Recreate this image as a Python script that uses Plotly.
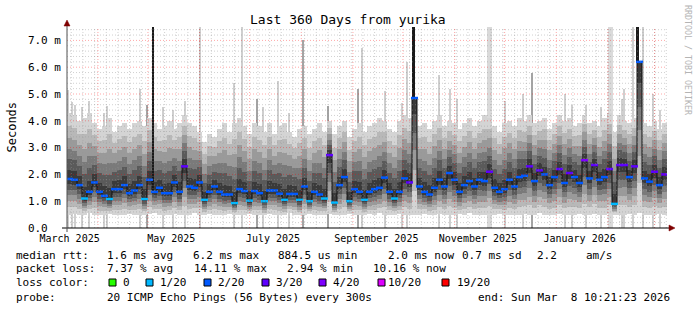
import plotly.graph_objects as go
from datetime import datetime, timedelta

# ---------------- data ----------------
START = datetime(2025, 3, 13, 10, 21, 23)
END = datetime(2026, 3, 8, 10, 21, 23)
STEP_DAYS = 3  # one smoke sample every 3 days

median_ms = [
    1.83, 1.80, 1.60, 1.10, 1.35, 1.70, 1.35, 1.20, 1.08, 1.45,
    1.45, 1.60, 1.30, 1.40, 1.60, 1.08, 1.80, 1.35, 1.50, 1.30,
    1.30, 1.70, 1.35, 2.30, 1.55, 1.50, 1.70, 1.05, 1.35, 1.55,
    1.35, 1.25, 1.25, 0.93, 1.45, 1.38, 1.02, 1.38, 1.30, 1.00,
    1.40, 1.40, 1.28, 1.05, 1.27, 1.27, 1.05, 1.55, 1.00, 1.35,
    1.25, 1.10, 2.72, 0.95, 1.60, 1.90, 1.00, 1.45, 1.35, 1.05,
    1.35, 1.45, 1.50, 1.88, 1.35, 1.10, 1.35, 1.85, 1.70, 4.85,
    1.55, 1.35, 1.25, 1.50, 1.80, 1.55, 2.05, 1.80, 1.35, 1.60,
    1.75, 1.55, 1.80, 1.75, 2.10, 1.50, 1.35, 1.45, 1.80, 1.55,
    1.90, 1.95, 2.30, 1.75, 2.15, 2.00, 1.60, 1.90, 2.20, 1.68,
    2.05, 1.90, 1.68, 2.53, 1.85, 2.35, 1.80, 1.90, 2.20, 0.90,
    2.35, 2.35, 1.90, 2.30, 6.20, 1.85, 1.73, 2.10, 1.60, 2.00,
]
loss_of_20 = [
    2, 2, 2, 1, 2, 2, 2, 2, 1, 2,
    2, 2, 2, 2, 2, 1, 2, 2, 2, 2,
    2, 2, 2, 3, 2, 2, 2, 1, 2, 2,
    2, 2, 2, 1, 2, 2, 1, 2, 2, 1,
    2, 2, 2, 1, 2, 2, 1, 2, 1, 2,
    2, 1, 3, 1, 2, 2, 1, 2, 2, 1,
    2, 2, 2, 2, 2, 1, 2, 2, 3, 2,
    2, 2, 2, 2, 2, 2, 2, 2, 2, 2,
    2, 2, 2, 2, 3, 2, 2, 2, 2, 2,
    2, 2, 3, 2, 3, 2, 2, 2, 3, 2,
    3, 2, 2, 4, 2, 3, 2, 2, 3, 1,
    3, 3, 2, 3, 2, 2, 2, 3, 2, 3,
]
smoke_top_ms = [
    4.3, 4.2, 4.0, 4.1, 4.3, 3.9, 3.7, 3.8, 4.1, 3.6,
    3.8, 3.9, 3.7, 3.9, 4.0, 3.8, 4.1, 3.9, 3.7, 3.8,
    4.0, 3.7, 3.9, 4.2, 3.9, 3.8, 3.6, 3.2, 3.5, 3.4,
    3.7, 3.9, 3.6, 3.9, 4.1, 3.8, 3.5, 3.9, 3.8, 3.6,
    3.9, 3.5, 3.8, 3.9, 3.6, 3.4, 3.7, 3.8, 3.5, 3.7,
    3.9, 3.6, 4.0, 3.5, 3.8, 4.0, 3.4, 3.7, 3.9, 3.6,
    3.8, 3.9, 4.1, 4.0, 3.7, 3.6, 4.0, 4.2, 4.1, 4.3,
    3.8, 3.9, 3.7, 4.0, 4.2, 3.8, 4.0, 3.9, 3.7, 3.9,
    4.1, 3.8, 4.0, 4.2, 4.1, 3.8, 3.6, 3.9, 4.0, 3.8,
    4.1, 4.0, 4.2, 3.9, 4.0, 4.1, 3.7, 3.9, 4.2, 4.0,
    4.1, 3.8, 3.9, 4.2, 3.9, 4.0, 3.8, 4.1, 4.3, 3.6,
    4.2, 4.0, 3.9, 4.1, 4.4, 3.9, 3.8, 4.0, 3.7, 3.9,
]
smoke_low_ms = [
    0.50, 0.52, 0.48, 0.50, 0.55, 0.50, 0.47, 0.50, 0.52, 0.50,
    0.48, 0.50, 0.53, 0.50, 0.47, 0.50, 0.52, 0.55, 0.50, 0.48,
    0.50, 0.52, 0.50, 0.47, 0.50, 0.55, 0.50, 0.48, 0.52, 0.50,
    0.50, 0.47, 0.52, 0.50, 0.48, 0.50, 0.53, 0.50, 0.50, 0.47,
    0.52, 0.50, 0.48, 0.50, 0.55, 0.50, 0.47, 0.50, 0.52, 0.50,
    0.48, 0.50, 0.53, 0.50, 0.47, 0.50, 0.52, 0.50, 0.50, 0.48,
    0.52, 0.50, 0.55, 0.50, 0.48, 0.50, 0.52, 0.50, 0.47, 0.50,
    0.50, 0.53, 0.50, 0.48, 0.52, 0.50, 0.50, 0.47, 0.52, 0.50,
    0.55, 0.50, 0.48, 0.50, 0.52, 0.50, 0.53, 0.50, 0.47, 0.50,
    0.50, 0.52, 0.48, 0.50, 0.55, 0.50, 0.50, 0.47, 0.52, 0.50,
    0.48, 0.50, 0.52, 0.50, 0.50, 0.53, 0.50, 0.48, 0.52, 0.50,
    0.47, 0.50, 0.52, 0.50, 0.55, 0.50, 0.48, 0.50, 0.52, 0.50,
]

# isolated high pings (day offset from START, top in ms)
light_spike_day = [0.6, 3.0, 4.8, 9.0, 13.2, 22.2, 24.0, 43.8, 57.6, 63.6, 70.8, 79.8,
                   100.2, 105.0, 117.6, 126.6, 133.2, 177.0, 190.8, 201.0, 204.0,
                   223.2, 229.8, 234.0, 262.8, 273.6, 298.8, 303.0, 311.4, 320.4,
                   333.0, 334.2, 339.6, 345.6, 351.6, 355.8]
light_spike_top = [5.15, 4.7, 4.6, 4.5, 4.75, 4.3, 4.55, 5.2, 4.5, 4.4, 4.75, 7.6,
                   5.4, 7.6, 4.5, 5.5, 4.3, 6.7, 5.1, 4.65, 6.2,
                   5.7, 5.2, 4.8, 4.75, 5.0, 5.0, 4.6, 4.6, 4.5,
                   4.8, 5.2, 7.6, 7.6, 5.0, 4.4]
gray_spike_day = [48.0, 114.0, 141.6, 156.6, 174.6, 279.0]
gray_spike_top = [4.6, 4.8, 7.0, 4.55, 5.2, 5.8]
wide_spike_day = [253.2, 325.8]
wide_spike_top = [7.6, 7.6]
dark_spike_day = [51.8, 208.0, 342.4]
dark_spike_top = [7.6, 7.6, 7.6]

x_tick_dates = ["2025-03-15", "2025-05-15", "2025-07-15",
                "2025-09-15", "2025-11-15", "2026-01-15"]
x_tick_text = ["March 2025", "May 2025", "July 2025",
               "September 2025", "November 2025", "January 2026"]
y_tick_vals = [0, 1, 2, 3, 4, 5, 6, 7]
y_tick_text = ["0.0\u00a0\u00a0", "1.0 m", "2.0 m", "3.0 m",
               "4.0 m", "5.0 m", "6.0 m", "7.0 m"]

loss_labels = ["0", "1/20", "2/20", "3/20", "4/20", "10/20", "19/20"]
loss_palette = ["#26ff00", "#00b8ff", "#0059ff", "#5e00ff", "#7e00ff", "#dd00ff", "#ff0000"]
loss_counts = [0, 1, 2, 3, 4, 10, 19]

# ---------------- geometry helpers (pixel layout) ----------------
W, H = 697, 310
PL, PR, PT, PB = 67, 667, 27, 228
MONO = "DejaVu Sans Mono"


def px2x(px):
    return (px - PL) / (PR - PL)


def py2y(py):
    return (PB - py) / (PB - PT)


DAY_MS = 86400000
centers = [START + timedelta(days=STEP_DAYS * i + STEP_DAYS / 2) for i in range(len(median_ms))]


def day2date(d):
    return START + timedelta(days=d)


fig = go.Figure()

# spikes under the smoke
fig.add_trace(go.Bar(x=[day2date(d) for d in wide_spike_day], y=wide_spike_top, base=0,
                     width=3 * DAY_MS, marker=dict(color="#dadada", line_width=0),
                     hoverinfo="skip", showlegend=False))
fig.add_trace(go.Bar(x=[day2date(d) for d in light_spike_day], y=light_spike_top, base=0,
                     width=1.0 * DAY_MS, marker=dict(color="#cfcfcf", line_width=0),
                     hoverinfo="skip", showlegend=False))
fig.add_trace(go.Bar(x=[day2date(d) for d in gray_spike_day], y=gray_spike_top, base=0,
                     width=0.8 * DAY_MS, marker=dict(color="#a4a4a4", line_width=0),
                     hoverinfo="skip", showlegend=False))

# smoke: bands from outer (light) to inner (dark)
levels = [(1.0, "#d4d4d4"), (0.8, "#b8b8b8"), (0.62, "#9a9a9a"),
          (0.45, "#7a7a7a"), (0.3, "#5a5a5a"), (0.14, "#3a3a3a")]
for f, col in levels:
    lows, highs = [], []
    for m, lo, top in zip(median_ms, smoke_low_ms, smoke_top_ms):
        t = max(top, m)
        lows.append(m - (m - lo) * f)
        highs.append(m + (t - m) * f)
    fig.add_trace(go.Bar(x=centers, base=lows, y=[h - l for h, l in zip(highs, lows)],
                         width=STEP_DAYS * DAY_MS, marker=dict(color=col, line_width=0),
                         hoverinfo="skip", showlegend=False))

# dark outliers
fig.add_trace(go.Bar(x=[day2date(d) for d in dark_spike_day],
                     base=[median_ms[int(d // STEP_DAYS)] for d in dark_spike_day],
                     y=[t - median_ms[int(d // STEP_DAYS)] for d, t in zip(dark_spike_day, dark_spike_top)],
                     width=1.0 * DAY_MS, marker=dict(color="#1a1a1a", line_width=0),
                     hoverinfo="skip", showlegend=False))

# median line
fig.add_trace(go.Scatter(x=centers, y=median_ms, mode="lines",
                         line=dict(color="#111111", width=1, shape="hvh"),
                         hoverinfo="skip", showlegend=False))
color_of = dict(zip(loss_counts, loss_palette))
fig.add_trace(go.Scatter(x=centers, y=median_ms, mode="markers",
                         marker=dict(symbol="line-ew", size=5,
                                     line=dict(width=2.5, color=[color_of[l] for l in loss_of_20])),
                         hoverinfo="skip", showlegend=False))

# ---------------- grid (drawn over the smoke like rrdtool) ----------------
shapes = []
for k in range(1, 38):
    v = k / 5
    if k % 5 == 0:
        shapes.append(dict(type="line", xref="paper", yref="y", x0=0, x1=1, y0=v, y1=v,
                           line=dict(color="rgba(255,0,0,0.35)", width=1, dash="1px,2px"),
                           layer="above"))
    else:
        shapes.append(dict(type="line", xref="paper", yref="y", x0=0, x1=1, y0=v, y1=v,
                           line=dict(color="rgba(150,150,150,0.45)", width=1, dash="1px,2px"),
                           layer="above"))
d = datetime(2025, 3, 16)
while d < END:
    shapes.append(dict(type="line", xref="x", yref="paper", x0=d, x1=d, y0=0, y1=1,
                       line=dict(color="rgba(150,150,150,0.45)", width=1, dash="1px,2px"),
                       layer="above"))
    d += timedelta(days=7)
y_, m_ = 2025, 4
while datetime(y_, m_, 1) < END:
    d = datetime(y_, m_, 1)
    shapes.append(dict(type="line", xref="x", yref="paper", x0=d, x1=d, y0=0, y1=1,
                       line=dict(color="rgba(255,0,0,0.35)", width=1, dash="1px,2px"),
                       layer="above"))
    m_ += 1
    if m_ > 12:
        m_, y_ = 1, y_ + 1

# axes + arrows
shapes.append(dict(type="line", xref="paper", yref="paper", x0=px2x(62), x1=px2x(669),
                   y0=0, y1=0, line=dict(color="#000000", width=1), layer="above"))
shapes.append(dict(type="line", xref="paper", yref="paper", x0=0, x1=0,
                   y0=py2y(232), y1=py2y(25), line=dict(color="#505050", width=1), layer="above"))
shapes.append(dict(type="path", xref="paper", yref="paper",
                   path=f"M {px2x(669)},{py2y(225)} L {px2x(669)},{py2y(231)} L {px2x(675)},{py2y(228)} Z",
                   fillcolor="#7f0000", line=dict(color="#7f0000", width=0.5), layer="above"))
shapes.append(dict(type="path", xref="paper", yref="paper",
                   path=f"M {px2x(64)},{py2y(26)} L {px2x(70)},{py2y(26)} L {px2x(67)},{py2y(20)} Z",
                   fillcolor="#7f0000", line=dict(color="#7f0000", width=0.5), layer="above"))

# legend squares
sq_left = [109, 146, 204, 262, 319, 378, 442]
lab_left = [123, 160, 218, 276, 333, 388, 456.7]
for x0, col in zip(sq_left, loss_palette):
    shapes.append(dict(type="rect", xref="paper", yref="paper",
                       x0=px2x(x0), x1=px2x(x0 + 7), y0=py2y(286), y1=py2y(279),
                       fillcolor=col, line=dict(color="#000000", width=1)))

annotations = []


def txt(px, py, s, size=11, anchor="left", color="#000000", angle=0):
    annotations.append(dict(x=px2x(px), y=py2y(py), xref="paper", yref="paper", text=s,
                            showarrow=False, xanchor=anchor, yanchor="middle",
                            font=dict(family=MONO, size=size, color=color),
                            borderpad=0, borderwidth=0, textangle=angle))


txt(347.5, 19.5, "Last 360 Days from yurika", size=13, anchor="center")
txt(11, 127.5, "Seconds", size=12, anchor="center", angle=-90)
txt(688, 60, "RRDTOOL / TOBI OETIKER", size=8.3, anchor="center", color="#b4b4b4", angle=90)

row1, row2, row3, row4 = 255.5, 268, 282.8, 297.5
txt(16, row1, "median rtt:")
txt(107.3, row1, "1.6 ms avg")
txt(193.3, row1, "6.2 ms max")
txt(278.3, row1, "884.5 us min")
txt(388.3, row1, "2.0 ms now")
txt(461.7, row1, "0.7 ms sd")
txt(536.7, row1, "2.2")
txt(586, row1, "am/s")

txt(16, row2, "packet loss:")
txt(107.3, row2, "7.37 % avg")
txt(194, row2, "14.11 % max")
txt(286.7, row2, "2.94 % min")
txt(372.7, row2, "10.16 % now")

txt(16, row3, "loss color:")
for x0, lab in zip(lab_left, loss_labels):
    txt(x0, row3, lab)

txt(16, row4, "probe:")
txt(107.3, row4, "20 ICMP Echo Pings (56 Bytes) every 300s")
txt(478.3, row4, "end: Sun Mar\u00a0\u00a08 10:21:23 2026")

fig.update_layout(
    width=W, height=H,
    margin=dict(l=PL, r=W - PR, t=PT, b=H - PB, pad=0),
    paper_bgcolor="#ffffff", plot_bgcolor="#ffffff",
    barmode="overlay", bargap=0,
    showlegend=False,
    shapes=shapes, annotations=annotations,
    xaxis=dict(type="date", range=[START, END], showgrid=False, zeroline=False,
               showline=False, ticks="", tickvals=x_tick_dates, ticktext=x_tick_text,
               ticklabelstandoff=3,
               tickfont=dict(family=MONO, size=10, color="#000000"), fixedrange=True),
    yaxis=dict(range=[0, 7.5], showgrid=False, zeroline=False, showline=False,
               ticks="", tickvals=y_tick_vals, ticktext=y_tick_text,
               ticklabelstandoff=5,
               tickfont=dict(family=MONO, size=11, color="#000000"), fixedrange=True),
)

fig.write_html("out.html")
